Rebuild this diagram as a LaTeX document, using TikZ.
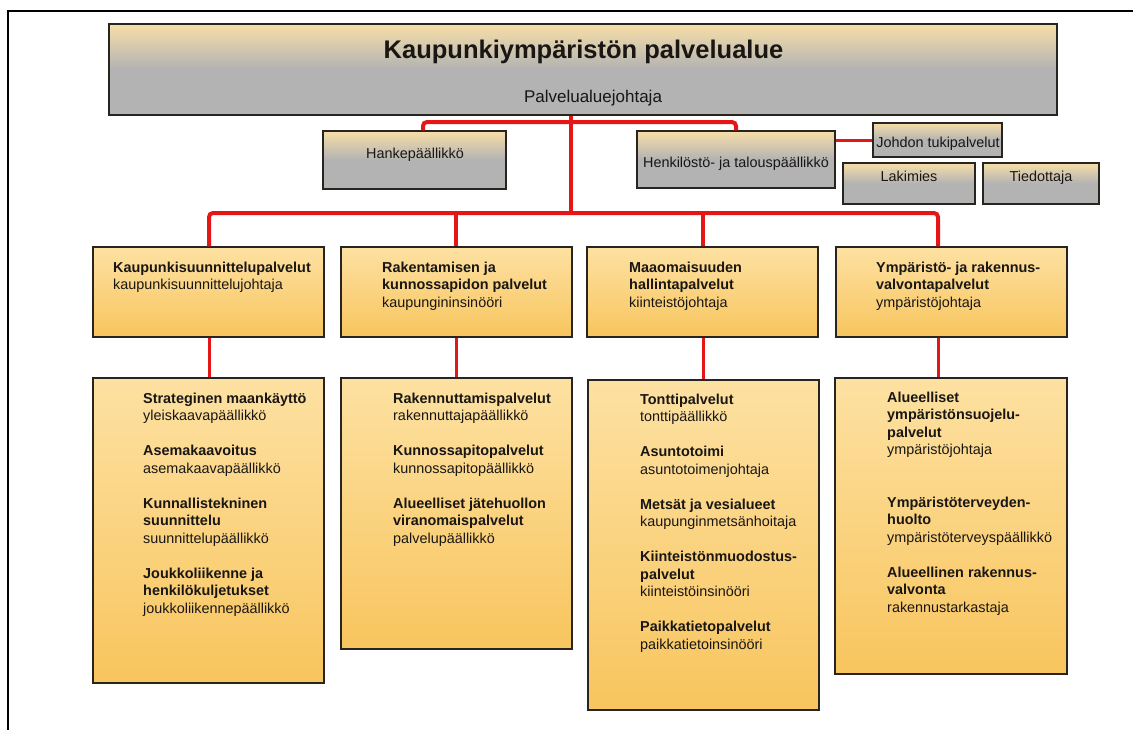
\documentclass[tikz,border=0pt]{standalone}
\usepackage{fontspec}
\setmainfont{Liberation Sans}
\definecolor{redl}{RGB}{228,22,22}
\definecolor{tanc}{RGB}{247,222,168}
\definecolor{grayc}{RGB}{179,179,179}
\definecolor{orTop}{RGB}{253,225,162}
\definecolor{orBot}{RGB}{248,197,94}
\definecolor{edge}{RGB}{40,36,32}
\definecolor{txt}{RGB}{25,22,20}
\pgfdeclareverticalshading{grayhead}{100bp}{color(0bp)=(grayc); color(25bp)=(grayc); color(50bp)=(grayc); color(75bp)=(tanc); color(100bp)=(tanc)}
\tikzset{
  gbox/.style={draw=edge, line width=1.4pt, shading=grayhead, rectangle, inner sep=0pt},
  obox/.style={draw=edge, line width=1.4pt, top color=orTop, bottom color=orBot, rectangle, inner sep=0pt},
  redline/.style={draw=redl, line width=4pt, rounded corners=4pt},
  thinred/.style={draw=redl, line width=3pt},
  lbl/.style={anchor=north west, inner sep=0pt, align=left, font=\fontsize{14.4}{17.5}\selectfont, text=txt},
  glbl/.style={anchor=base, inner sep=0pt, font=\fontsize{14.4}{17.5}\selectfont, text=txt}
}
\begin{document}
\begin{tikzpicture}[x=1pt,y=-1pt]
\useasboundingbox (0,0) rectangle (1133,729);
\fill[white] (0,0) rectangle (1133,729);
\draw[line width=1.5pt, black] (8,740) -- (8,11) -- (1140,11);

% top box
\node[gbox, minimum width=948pt, minimum height=91pt] (top) at (583,69.5) {};
\node[anchor=base, inner sep=0pt, font=\fontsize{25.5}{30}\selectfont\bfseries, text=txt] (title) at (583.5,58) {Kaupunkiympäristön palvelualue};
\node[anchor=base, inner sep=0pt, font=\fontsize{17}{20}\selectfont, text=txt] (chief) at (593,102) {Palvelualuejohtaja};

% staff boxes
\node[gbox, minimum width=183pt, minimum height=58pt] (hanke) at (414.5,160) {};
\node[glbl] (hanket) at (415,158) {Hankepäällikkö};
\node[gbox, minimum width=198pt, minimum height=57pt] (henk) at (736,159.5) {};
\node[glbl] (henkt) at (736,167) {Henkilöstö- ja talouspäällikkö};
\node[gbox, minimum width=129pt, minimum height=34pt] (johdon) at (937.5,140) {};
\node[glbl] (johdont) at (938,147) {Johdon tukipalvelut};
\node[gbox, minimum width=132pt, minimum height=41pt] (laki) at (909,183.5) {};
\node[glbl] (lakit) at (909,181) {Lakimies};
\node[gbox, minimum width=116pt, minimum height=41pt] (tied) at (1041,183.5) {};
\node[glbl] (tiedt) at (1041,181) {Tiedottaja};

% level 2 boxes
\node[obox, minimum width=231pt, minimum height=90pt] (a2) at (208.5,292) {};
\node[obox, minimum width=231pt, minimum height=90pt] (b2) at (456.5,292) {};
\node[obox, minimum width=231pt, minimum height=90pt] (c2) at (702.5,292) {};
\node[obox, minimum width=231pt, minimum height=90pt] (d2) at (951.5,292) {};
\node[lbl] (a2t) at (113,259.75) {\strut\textbf{Kaupunkisuunnittelupalvelut}\\kaupunkisuunnittelujohtaja};
\node[lbl] (b2t) at (382,259.75) {\strut\textbf{Rakentamisen ja}\\\textbf{kunnossapidon palvelut}\\kaupungininsinööri};
\node[lbl] (c2t) at (629,259.75) {\strut\textbf{Maaomaisuuden}\\\textbf{hallintapalvelut}\\kiinteistöjohtaja};
\node[lbl] (d2t) at (876,259.75) {\strut\textbf{Ympäristö- ja rakennus-}\\\textbf{valvontapalvelut}\\ympäristöjohtaja};

% level 3 boxes
\node[obox, minimum width=231pt, minimum height=305pt] (a3) at (208.5,530.5) {};
\node[obox, minimum width=231pt, minimum height=271pt] (b3) at (456.5,513.5) {};
\node[obox, minimum width=231pt, minimum height=330pt] (c3) at (703.5,545) {};
\node[obox, minimum width=232pt, minimum height=296pt] (d3) at (951,526) {};

\node[lbl] (a3t) at (143,390.75) {\strut\textbf{Strateginen maankäyttö}\\yleiskaavapäällikkö\\[17.5pt]
\textbf{Asemakaavoitus}\\asemakaavapäällikkö\\[17.5pt]
\textbf{Kunnallistekninen}\\\textbf{suunnittelu}\\suunnittelupäällikkö\\[17.5pt]
\textbf{Joukkoliikenne ja}\\\textbf{henkilökuljetukset}\\joukkoliikennepäällikkö};
\node[lbl] (b3t) at (393,390.75) {\strut\textbf{Rakennuttamispalvelut}\\rakennuttajapäällikkö\\[17.5pt]
\textbf{Kunnossapitopalvelut}\\kunnossapitopäällikkö\\[17.5pt]
\textbf{Alueelliset jätehuollon}\\\textbf{viranomaispalvelut}\\palvelupäällikkö};
\node[lbl] (c3t) at (640,391.75) {\strut\textbf{Tonttipalvelut}\\tonttipäällikkö\\[17.5pt]
\textbf{Asuntotoimi}\\asuntotoimenjohtaja\\[17.5pt]
\textbf{Metsät ja vesialueet}\\kaupunginmetsänhoitaja\\[17.5pt]
\textbf{Kiinteistönmuodostus-}\\\textbf{palvelut}\\kiinteistöinsinööri\\[17.5pt]
\textbf{Paikkatietopalvelut}\\paikkatietoinsinööri};
\node[lbl] (d3t) at (887,389.75) {\strut\textbf{Alueelliset}\\\textbf{ympäristönsuojelu-}\\\textbf{palvelut}\\ympäristöjohtaja\\[35pt]
\textbf{Ympäristöterveyden-}\\\textbf{huolto}\\ympäristöterveyspäällikkö\\[17.5pt]
\textbf{Alueellinen rakennus-}\\\textbf{valvonta}\\rakennustarkastaja};

% connectors
\coordinate (xm) at (571,0);
\coordinate (bar) at (0,213);
\coordinate (x1) at (209,0);
\coordinate (x2) at (456,0);
\coordinate (x3) at (703,0);
\coordinate (x4) at (938,0);
\coordinate (xh) at (423,0);
\coordinate (ubar) at (0,122);

\draw[redline] (xh |- hanke.north) -- (xh |- ubar) -- (henk.north |- ubar) -- (henk.north);
\draw[redline] (xm |- top.south) -- (xm |- bar);
\draw[redline] (x1 |- a2.north) -- (x1 |- bar) -- (x4 |- bar) -- (x4 |- d2.north);
\draw[redline] (x2 |- bar) -- (x2 |- b2.north);
\draw[redline] (x3 |- bar) -- (x3 |- c2.north);
\draw[thinred] (henk.east |- johdon.west) -- (johdon.west);

\draw[thinred] (x1 |- a2.south) -- (x1 |- a3.north);
\draw[thinred] (x2 |- b2.south) -- (x2 |- b3.north);
\draw[thinred] (x3 |- c2.south) -- (x3 |- c3.north);
\draw[thinred] (x4 |- d2.south) -- (x4 |- d3.north);
\end{tikzpicture}
\end{document}
